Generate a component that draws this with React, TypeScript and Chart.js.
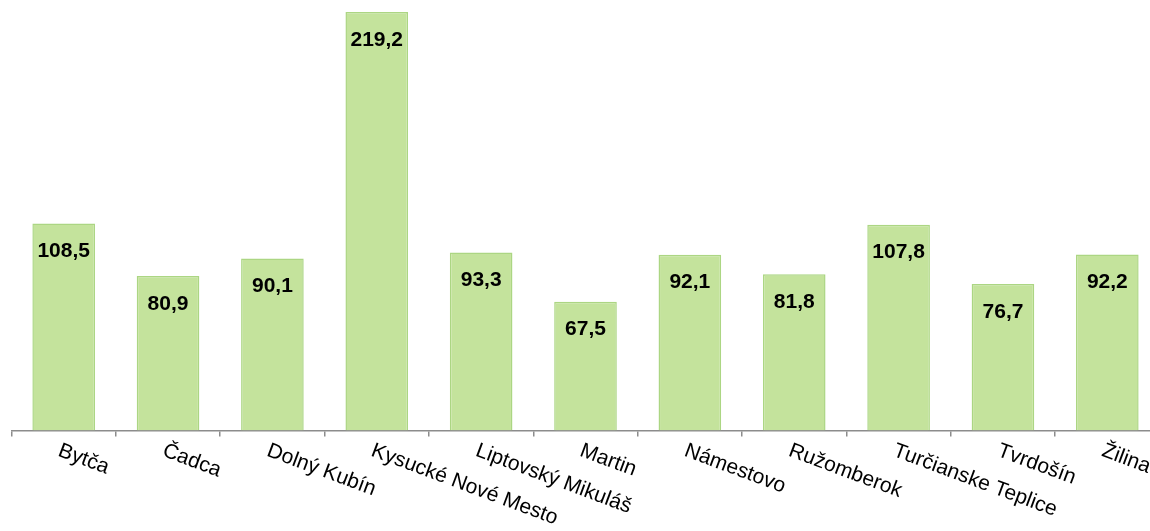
import React, { useEffect, useRef } from "react";
import { Chart, registerables } from "chart.js";

Chart.register(...registerables);

const categories = [
  "Bytča",
  "Čadca",
  "Dolný Kubín",
  "Kysucké Nové Mesto",
  "Liptovský Mikuláš",
  "Martin",
  "Námestovo",
  "Ružomberok",
  "Turčianske Teplice",
  "Tvrdošín",
  "Žilina",
];

const values = [108.5, 80.9, 90.1, 219.2, 93.3, 67.5, 92.1, 81.8, 107.8, 76.7, 92.2];

const yMin = 0;
const yMax = 225;

const FONT = '"Liberation Sans", Arial, sans-serif';

const labelPlugin = {
  id: "customLabels",
  afterDraw(chart: any) {
    const ctx = chart.ctx;
    const xScale = chart.scales.x;
    const meta = chart.getDatasetMeta(0);
    ctx.save();
    ctx.fillStyle = "#000000";
    ctx.font = `bold 21px ${FONT}`;
    ctx.textAlign = "center";
    ctx.textBaseline = "alphabetic";
    meta.data.forEach((bar: any, i: number) => {
      const txt = values[i].toFixed(1).replace(".", ",");
      ctx.fillText(txt, bar.x, bar.y + 33.5);
    });
    ctx.font = `21px ${FONT}`;
    ctx.textAlign = "left";
    const baseY = chart.chartArea.bottom + 11.5;
    categories.forEach((c, i) => {
      const px = xScale.getPixelForValue(i);
      ctx.save();
      ctx.translate(px, baseY);
      ctx.rotate((20.5 * Math.PI) / 180);
      ctx.fillText(c, -1.5, 15);
      ctx.restore();
    });
    ctx.restore();
  },
};

export default function App() {
  const canvasRef = useRef<HTMLCanvasElement | null>(null);

  useEffect(() => {
    if (!canvasRef.current) return;
    const chart = new Chart(canvasRef.current, {
      type: "bar",
      data: {
        labels: categories,
        datasets: [
          {
            data: values,
            backgroundColor: "#c4e39c",
            borderColor: "#acd683",
            borderWidth: 1.5,
            categoryPercentage: 1,
            barPercentage: 0.6,
          },
        ],
      },
      options: {
        responsive: false,
        animation: false,
        layout: { padding: { left: 11.5, right: 10.5, top: 1, bottom: 0 } },
        plugins: {
          legend: { display: false },
          tooltip: { enabled: false },
          title: { display: false },
        },
        scales: {
          x: {
            offset: true,
            grid: {
              offset: true,
              drawOnChartArea: false,
              drawTicks: true,
              tickLength: 6,
              color: "#8c8c8c",
              lineWidth: 1.5,
            },
            border: { display: true, color: "#8c8c8c", width: 1.5 },
            ticks: { display: false },
            afterFit: (s: any) => {
              s.height = 100.5;
            },
          },
          y: {
            display: false,
            min: yMin,
            max: yMax,
          },
        },
      },
      plugins: [labelPlugin],
    });
    return () => chart.destroy();
  }, []);

  return (
    <div
      style={{
        position: "fixed",
        left: 0,
        top: 0,
        width: 1150,
        height: 531,
        overflow: "hidden",
        background: "#ffffff",
      }}
    >
      <div style={{ width: 1170, height: 531 }}>
        <canvas
          ref={canvasRef}
          width={1170}
          height={531}
          style={{ width: 1170, height: 531, display: "block" }}
        />
      </div>
    </div>
  );
}
